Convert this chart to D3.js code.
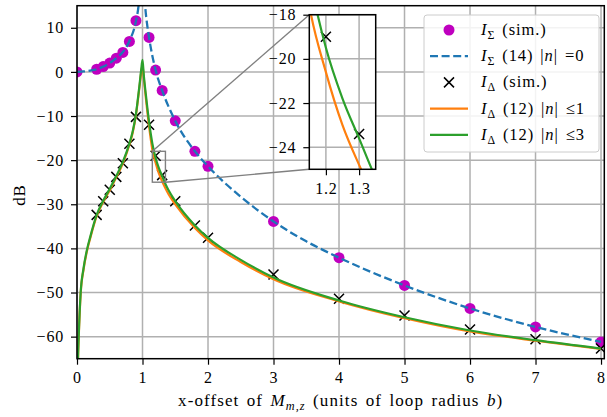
<!DOCTYPE html>
<html>
<head>
<meta charset="utf-8">
<script src="https://cdn.jsdelivr.net/npm/d3@7"></script>
<style>
  body { margin: 0; background: #fff; }
  text { font-family: "Liberation Serif", "DejaVu Serif", serif; fill: #000; letter-spacing: 0.8px; word-spacing: 2px; }
</style>
</head>
<body>
<svg id="chart" width="607" height="417"></svg>
<script>
// ---- data ----
const xTicks = [0, 1, 2, 3, 4, 5, 6, 7, 8];
const yTicks = [-60, -50, -40, -30, -20, -10, 0, 10];
const insetXTicks = [1.2, 1.3];
const insetYTicks = [-24, -22, -20, -18];

// I_sigma simulated points
const sumSimX = [0, 0.3, 0.4, 0.5, 0.6, 0.7, 0.8, 0.9, 1.1, 1.2, 1.3, 1.5, 1.8, 2, 3, 4, 5, 6, 7, 8];
const sumSimDb = [0, 0.6, 1.2, 2.0, 3.1, 4.4, 6.9, 11.6, 7.8, 0.4, -4.2, -11.1, -18.0, -21.4, -33.9, -42.1, -48.4, -53.6, -57.8, -61.2];

// I_sigma theory (14), dashed; null = gap at the singularity
const sumThX = [0, 0.1, 0.2, 0.3, 0.4, 0.5, 0.6, 0.7, 0.8, 0.9, 0.94, 0.97, null, 1.02, 1.04, 1.07, 1.1, 1.2, 1.3, 1.5, 1.8, 2, 2.5, 3, 3.5, 4, 5, 6, 7, 8];
const sumThDb = [0, 0.1, 0.3, 0.6, 1.2, 2.0, 3.1, 4.5, 7.0, 11.5, 15, 20, null, 19.5, 15, 10.8, 7.8, 0.4, -4.2, -11.1, -18.0, -21.4, -28.3, -33.9, -38.4, -42.1, -48.4, -53.6, -57.8, -61.2];

// I_delta simulated points
const deltaSimX = [0.3, 0.4, 0.5, 0.6, 0.7, 0.8, 0.9, 1.1, 1.2, 1.3, 1.5, 1.8, 2, 3, 4, 5, 6, 7, 8];
const deltaSimDb = [-32.4, -29.3, -26.7, -23.8, -20.7, -16.3, -10.2, -12.0, -19.0, -23.4, -29.3, -34.8, -37.6, -45.9, -51.4, -55.2, -58.4, -60.6, -62.7];

// I_delta theory (12), |n|<=1 (orange) and |n|<=3 (green)
const deltaThX = [0.003, 0.015, 0.026, 0.056, 0.1, 0.157, 0.2, 0.3, 0.4, 0.5, 0.6, 0.7, 0.8, 0.85, 0.9, 0.95, 0.98, 1.0,
                  1.02, 1.05, 1.1, 1.15, 1.2, 1.25, 1.3, 1.35, 1.4, 1.5, 1.8, 2, 2.5, 3, 4, 5, 6, 7, 8];
const orangeDb = [-75, -65.3, -60.3, -50.3, -44.8, -40.3, -37.8, -32.7, -29.5, -26.8, -23.9, -20.7, -16.5, -13.8, -9.8, -3.9, -0.2, 1.5,
                  -1.5, -5.8, -12.3, -17.6, -20.6, -23.0, -24.8, -26.4, -27.8, -30.0, -35.4, -38.2, -43.1, -47.0, -52.0, -55.8, -58.8, -60.9, -62.8];
const greenDb = [-75, -65, -60, -50, -44.5, -40, -37.5, -32.4, -29.2, -26.5, -23.6, -20.4, -16.2, -13.5, -9.5, -3.5, 0.5, 2.7,
                 -0.8, -5.0, -11.3, -16.2, -19.5, -21.8, -23.6, -25.4, -26.9, -29.3, -34.8, -37.6, -42.6, -46.6, -51.8, -55.6, -58.6, -60.8, -62.7];

const sigmaColor = "#bf00bf", dashColor = "#1f77b4", orangeColor = "#ff7f0e", greenColor = "#2ca02c";

const svg = d3.select("#chart");

const x = d3.scaleLinear().domain([0, 8.05]).range([77, 604.3]);
const y = d3.scaleLinear().domain([-65, 15]).range([358.7, 5.7]);

const ix = d3.scaleLinear().domain([1.15, 1.35]).range([309.3, 375.7]);
const iy = d3.scaleLinear().domain([-25, -18]).range([169.3, 14.7]);

const zip = (xs, ys) => xs.map((v, i) => [v, ys[i]]);

let defs = svg.append("defs");
defs.append("clipPath").attr("id", "mainClip").append("rect")
  .attr("x", x(0)).attr("y", y(15)).attr("width", x(8.05) - x(0)).attr("height", y(-65) - y(15));
defs.append("clipPath").attr("id", "insetClip").append("rect")
  .attr("x", ix(1.15)).attr("y", iy(-18)).attr("width", ix(1.35) - ix(1.15)).attr("height", iy(-25) - iy(-18));

// draws grid, series and frame into one set of axes
function drawPanel(g, sx, sy, xt, yt, clipId, tickFmt) {
  const [x0, x1] = sx.range(), [y0, y1] = sy.range();

  g.append("g").selectAll("line.gx").data(xt).enter().append("line")
    .attr("x1", d => sx(d)).attr("x2", d => sx(d)).attr("y1", y0).attr("y2", y1)
    .attr("stroke", "#b0b0b0").attr("stroke-width", 1.5);
  g.append("g").selectAll("line.gy").data(yt).enter().append("line")
    .attr("x1", x0).attr("x2", x1).attr("y1", d => sy(d)).attr("y2", d => sy(d))
    .attr("stroke", "#b0b0b0").attr("stroke-width", 1.5);

  const plot = g.append("g").attr("clip-path", `url(#${clipId})`);

  plot.selectAll("circle").data(zip(sumSimX, sumSimDb)).enter().append("circle")
    .attr("cx", d => sx(d[0])).attr("cy", d => sy(d[1])).attr("r", 5.5)
    .attr("fill", sigmaColor);

  const line = d3.line().defined(d => d[0] != null).curve(d3.curveMonotoneX)
    .x(d => sx(d[0])).y(d => sy(d[1]));

  plot.append("path").datum(zip(sumThX, sumThDb)).attr("d", line)
    .attr("fill", "none").attr("stroke", dashColor).attr("stroke-width", 2.3)
    .attr("stroke-dasharray", "8,3.6");

  plot.selectAll("path.cross").data(zip(deltaSimX, deltaSimDb)).enter().append("path")
    .attr("class", "cross")
    .attr("d", d => {
      const cx = sx(d[0]), cy = sy(d[1]), s = 5;
      return `M${cx - s},${cy - s}L${cx + s},${cy + s}M${cx - s},${cy + s}L${cx + s},${cy - s}`;
    })
    .attr("stroke", "#000").attr("stroke-width", 1.5).attr("fill", "none");

  plot.append("path").datum(zip(deltaThX, orangeDb)).attr("d", line)
    .attr("fill", "none").attr("stroke", orangeColor).attr("stroke-width", 2.2);
  plot.append("path").datum(zip(deltaThX, greenDb)).attr("d", line)
    .attr("fill", "none").attr("stroke", greenColor).attr("stroke-width", 2.2);

  const ax = g.append("g").attr("transform", `translate(0,${y0})`)
    .call(d3.axisBottom(sx).tickValues(xt).tickSize(6).tickPadding(7).tickFormat(tickFmt.x));
  const ay = g.append("g").attr("transform", `translate(${x0},0)`)
    .call(d3.axisLeft(sy).tickValues(yt).tickSize(6).tickPadding(7).tickFormat(tickFmt.y));
  [ax, ay].forEach(a => {
    a.select(".domain").remove();
    a.selectAll(".tick line").attr("stroke", "#000").attr("stroke-width", 1.2);
    a.selectAll(".tick text").attr("font-size", 16).attr("font-family", "Liberation Serif");
  });

  g.append("rect").attr("x", x0).attr("y", y1).attr("width", x1 - x0).attr("height", y0 - y1)
    .attr("fill", "none").attr("stroke", "#000").attr("stroke-width", 1.5);
}

const fmt = d3.format("");
drawPanel(svg.append("g"), x, y, xTicks, yTicks, "mainClip", {x: fmt, y: fmt});

// zoom indicator + connectors
svg.append("rect")
  .attr("x", x(1.15)).attr("y", y(-18)).attr("width", x(1.35) - x(1.15)).attr("height", y(-25) - y(-18))
  .attr("fill", "none").attr("stroke", "#808080").attr("stroke-width", 1.4);
svg.append("line").attr("x1", x(1.15)).attr("y1", y(-18)).attr("x2", ix(1.15)).attr("y2", iy(-18))
  .attr("stroke", "#808080").attr("stroke-width", 1.4);
svg.append("line").attr("x1", x(1.35)).attr("y1", y(-25)).attr("x2", ix(1.15)).attr("y2", iy(-25))
  .attr("stroke", "#808080").attr("stroke-width", 1.4);

// inset
const inset = svg.append("g");
inset.append("rect").attr("x", ix(1.15)).attr("y", iy(-18)).attr("width", ix(1.35) - ix(1.15))
  .attr("height", iy(-25) - iy(-18)).attr("fill", "#fff");
drawPanel(inset, ix, iy, insetXTicks, insetYTicks, "insetClip", {x: d3.format(".1f"), y: fmt});

// math-ish text helper
function mathText(sel, parts) {
  parts.forEach(p => {
    const t = sel.append("tspan").text(p.t);
    if (p.i) t.attr("font-style", "italic");
    if (p.sub) t.attr("font-size", "72%").attr("dy", 4);
    if (p.up) t.attr("dy", -4);
  });
  return sel;
}

// legend
const legend = svg.append("g");
legend.append("rect").attr("x", 424).attr("y", 15).attr("width", 175).attr("height", 137)
  .attr("rx", 3).attr("fill", "#fff").attr("fill-opacity", 0.85)
  .attr("stroke", "#cccccc").attr("stroke-width", 1);

const legendRows = [
  {kind: "dot", parts: [{t: "I", i: true}, {t: "Σ", sub: true}, {t: " (sim.)", up: true}]},
  {kind: "dash", parts: [{t: "I", i: true}, {t: "Σ", sub: true}, {t: " (14) |", up: true}, {t: "n", i: true}, {t: "| =0"}]},
  {kind: "cross", parts: [{t: "I", i: true}, {t: "Δ", sub: true}, {t: " (sim.)", up: true}]},
  {kind: "orange", parts: [{t: "I", i: true}, {t: "Δ", sub: true}, {t: " (12) |", up: true}, {t: "n", i: true}, {t: "| ≤1"}]},
  {kind: "green", parts: [{t: "I", i: true}, {t: "Δ", sub: true}, {t: " (12) |", up: true}, {t: "n", i: true}, {t: "| ≤3"}]}
];

legendRows.forEach((r, i) => {
  const cy = 30 + i * 26.2;
  if (r.kind === "dot") {
    legend.append("circle").attr("cx", 449).attr("cy", cy).attr("r", 5.5).attr("fill", sigmaColor);
  } else if (r.kind === "cross") {
    legend.append("path").attr("d", `M444,${cy - 5}L454,${cy + 5}M444,${cy + 5}L454,${cy - 5}`)
      .attr("stroke", "#000").attr("stroke-width", 1.5);
  } else {
    const col = r.kind === "dash" ? dashColor : r.kind === "orange" ? orangeColor : greenColor;
    const l = legend.append("line").attr("x1", 430).attr("x2", 468).attr("y1", cy).attr("y2", cy)
      .attr("stroke", col).attr("stroke-width", r.kind === "dash" ? 2.3 : 2.2);
    if (r.kind === "dash") l.attr("stroke-dasharray", "8,3.6");
  }
  mathText(legend.append("text").attr("x", 481).attr("y", cy + 5).attr("font-size", 16.5)
    .style("letter-spacing", "0.9px").style("word-spacing", "2px"), r.parts);
});

// axis labels
mathText(svg.append("text").attr("x", (x(0) + x(8.05)) / 2).attr("y", 406)
  .attr("text-anchor", "middle").attr("font-size", 17)
  .style("letter-spacing", "1.1px").style("word-spacing", "2px"),
  [{t: "x-offset of "}, {t: "M", i: true}, {t: "m,z", i: true, sub: true}, {t: " (units of loop radius ", up: true}, {t: "b", i: true}, {t: ")"}]);

svg.append("text").attr("transform", "translate(25,195) rotate(-90)")
  .attr("text-anchor", "middle").attr("font-size", 17).text("dB");
</script>
</body>
</html>
